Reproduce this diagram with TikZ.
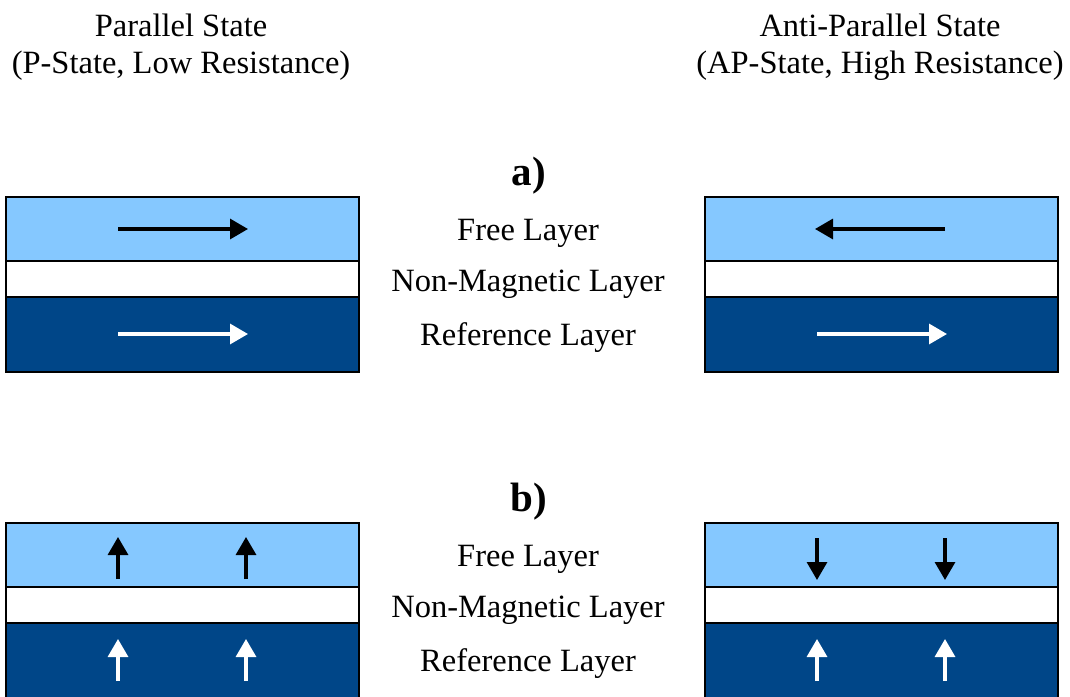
\documentclass[tikz,border=0pt]{standalone}
\usepackage{fontspec}
\setmainfont{Liberation Serif}
\usetikzlibrary{arrows.meta}
\definecolor{freeblue}{RGB}{133,200,255}
\definecolor{refblue}{RGB}{0,70,136}
\begin{document}
\begin{tikzpicture}[x=1pt,y=-1pt,
  layer/.style={draw=black,line width=1.2pt},
  freelayer/.style={layer,fill=freeblue},
  gaplayer/.style={layer,fill=white},
  reflayer/.style={layer,fill=refblue},
  spin/.style={line width=3.2pt,-{Triangle[length=18pt,width=20pt]}},
  blackspin/.style={spin,draw=black},
  whitespin/.style={spin,draw=white},
  title/.style={font=\fontsize{32.5}{38}\selectfont,align=center,anchor=center},
  lbl/.style={font=\fontsize{32.5}{38}\selectfont,anchor=center},
  part/.style={font=\fontsize{41}{48}\selectfont\bfseries,anchor=center}]
\useasboundingbox (0,0) rectangle (1070,696);
\clip (0,0) rectangle (1070,696);

% column titles
\node[title] (tP) at (181,25) {Parallel State};
\node[title] (tP2) at (181,66) {(P-State, Low Resistance)};
\node[title] (tA) at (880,25) {Anti-Parallel State};
\node[title] (tA2) at (880,66) {(AP-State, High Resistance)};

% ---------- a) in-plane magnetisation ----------
\node[part] (pa) at (529,176) {a)};
\draw[freelayer] (6,197) rectangle (359,261);
\draw[gaplayer]  (6,261) rectangle (359,297);
\draw[reflayer]  (6,297) rectangle (359,372);
\draw[freelayer] (705,197) rectangle (1058,261);
\draw[gaplayer]  (705,261) rectangle (1058,297);
\draw[reflayer]  (705,297) rectangle (1058,372);

\node[lbl] (fa) at (528,233) {Free Layer};
\node[lbl] (na) at (528,284) {Non-Magnetic Layer};
\node[lbl] (ra) at (528,338) {Reference Layer};

\draw[blackspin] (118,229) -- (248,229);
\draw[whitespin] (118,334) -- (248,334);
\draw[blackspin] (945,229) -- (815,229);
\draw[whitespin] (817,334) -- (947,334);

% ---------- b) perpendicular magnetisation ----------
\node[part] (pb) at (529,502) {b)};
\draw[freelayer] (6,523) rectangle (359,587);
\draw[gaplayer]  (6,587) rectangle (359,623);
\draw[reflayer]  (6,623) rectangle (359,698);
\draw[freelayer] (705,523) rectangle (1058,587);
\draw[gaplayer]  (705,587) rectangle (1058,623);
\draw[reflayer]  (705,623) rectangle (1058,698);

\node[lbl] (fb) at (528,559) {Free Layer};
\node[lbl] (nb) at (528,610) {Non-Magnetic Layer};
\node[lbl] (rb) at (528,664) {Reference Layer};

\draw[blackspin] (118,579) -- (118,537);
\draw[blackspin] (246,579) -- (246,537);
\draw[whitespin] (118,681) -- (118,639);
\draw[whitespin] (246,681) -- (246,639);

\draw[blackspin] (817,538) -- (817,580);
\draw[blackspin] (945,538) -- (945,580);
\draw[whitespin] (817,681) -- (817,639);
\draw[whitespin] (945,681) -- (945,639);
\end{tikzpicture}
\end{document}
